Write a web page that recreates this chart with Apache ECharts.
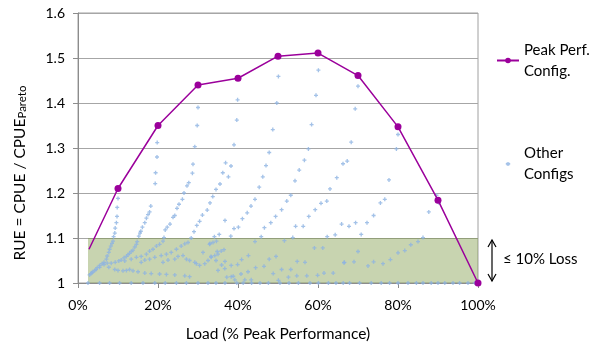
<!DOCTYPE html>
<html>
<head>
<meta charset="utf-8">
<script src="https://cdn.jsdelivr.net/npm/echarts@6/dist/echarts.min.js"></script>
<style>
  html, body { margin: 0; padding: 0; background: #fff; }
  #main { width: 592px; height: 347px; }
</style>
</head>
<body>
<div id="main"></div>
<script>
// peak performance configuration (load %, RUE)
var loadPeak = [2.75, 10, 20, 30, 40, 50, 60, 70, 80, 90, 100];
var ruePeak = [1.075, 1.21, 1.35, 1.44, 1.455, 1.504, 1.511, 1.461, 1.347, 1.184, 1.0];

// other configs sitting on the pareto line (RUE = 1)
var paretoLoads = [2.5, 5.4, 7.9, 10.4, 13.3, 16.25, 19.2, 21.8, 24.6, 27.1, 30, 32.5, 34.5, 36.75, 39.7, 41.3, 43.4, 45.5, 47.6, 50.5, 52.75, 55.1, 58, 60.1, 62.6, 64.5, 66.3, 67.9, 70.4, 73.3, 75.8, 77.9, 80, 82.5, 84.6, 86.25, 88.3, 90, 91.7, 93.75, 95.4, 97.5, 99.2];

// other configs, [load %, RUE], grouped by the peak they climb to
var configs10 = [[2.9,1.018],[3.2,1.021],[3.5,1.023],[3.75,1.025],[4.2,1.028],[4.8,1.034],[5.4,1.039],[6,1.043],[6.5,1.046],[7.1,1.053],[7.3,1.060],[7.7,1.068],[7.9,1.075],[8.2,1.082],[8.5,1.088],[8.75,1.093],[8.9,1.103],[9.2,1.111],[9.3,1.122],[9.6,1.134],[9.75,1.148],[9.8,1.168],[10,1.188]];
var configs20 = [[4.5,1.030],[5.4,1.035],[6.5,1.041],[7.3,1.044],[8.3,1.044],[9.3,1.046],[10.2,1.049],[10.8,1.051],[11.5,1.056],[12.1,1.059],[12.5,1.063],[12.9,1.066],[13.3,1.070],[13.75,1.073],[14.2,1.080],[14.6,1.086],[14.8,1.092],[15.2,1.104],[15.5,1.111],[15.7,1.115],[16.1,1.124],[16.7,1.134],[17.1,1.144],[17.5,1.152],[17.9,1.158],[18.2,1.171],[19.3,1.221],[19.4,1.245],[19.75,1.280],[19.8,1.312]];
var configs30 = [[11.7,1.049],[13.3,1.053],[14.6,1.057],[15.8,1.059],[17.1,1.064],[17.9,1.071],[18.75,1.075],[19.6,1.082],[20.4,1.086],[21.25,1.093],[21.5,1.101],[21.8,1.118],[22.3,1.124],[23,1.131],[23.75,1.146],[24.2,1.150],[24.75,1.166],[25.25,1.175],[26.1,1.186],[26.5,1.200],[27.25,1.216],[27.7,1.223],[28.6,1.244],[28.75,1.264],[29.2,1.303],[29.8,1.350],[30,1.390]];
var configs40 = [[15.8,1.046],[16.7,1.051],[17.9,1.053],[19.2,1.057],[20.8,1.061],[22.1,1.064],[23.3,1.068],[24.6,1.075],[25.8,1.082],[26.7,1.087],[27.5,1.090],[28.3,1.100],[29,1.114],[29.7,1.128],[30.4,1.137],[31.1,1.151],[32.3,1.162],[33,1.178],[33.7,1.192],[34.5,1.208],[35.5,1.220],[36.2,1.245],[36.9,1.267],[37.6,1.236],[38.25,1.260],[39,1.307],[39.7,1.362],[39.9,1.407]];
var configs50 = [[21.25,1.046],[22.5,1.051],[24.2,1.053],[25,1.059],[26.25,1.061],[27.1,1.053],[27.9,1.050],[31.25,1.068],[32.9,1.086],[33.75,1.090],[34.6,1.093],[34.1,1.103],[35.3,1.108],[36.75,1.139],[38.2,1.104],[39,1.121],[40.1,1.124],[41.1,1.143],[42.3,1.156],[43.25,1.171],[44.25,1.186],[45.3,1.213],[46.2,1.236],[47,1.261],[47.8,1.290],[48.7,1.341],[49.7,1.400],[50.1,1.459]];
var configs60 = [[29.2,1.046],[29.6,1.043],[30.4,1.039],[31.7,1.043],[32.5,1.050],[33.3,1.057],[34.2,1.061],[35,1.064],[35.8,1.071],[36.5,1.074],[44.25,1.092],[45.8,1.103],[46.6,1.123],[48.2,1.134],[49.4,1.148],[50.9,1.163],[52.2,1.182],[53.2,1.195],[54.25,1.227],[55.3,1.251],[56.6,1.273],[57.6,1.298],[58.4,1.352],[59.5,1.417],[60.1,1.473]];
var configs70 = [[51.6,1.094],[53.7,1.101],[54.4,1.126],[56.3,1.126],[57.7,1.148],[59.3,1.163],[60.75,1.177],[62.2,1.182],[63,1.209],[64.7,1.234],[66.25,1.265],[67.3,1.271],[68.3,1.313],[69.3,1.387],[70,1.4375]];
var configs80 = [[59.1,1.078],[61.2,1.078],[62.3,1.103],[64.3,1.107],[65.9,1.131],[67.75,1.126],[69.4,1.134],[70.8,1.108],[72.25,1.134],[73.9,1.150],[75.6,1.178],[76.7,1.186],[77.75,1.229],[79.6,1.298],[80,1.330]];
var configs90 = [[66.5,1.045],[69,1.047],[70,1.070],[72.5,1.038],[73.9,1.047],[76.25,1.043],[78.1,1.052],[80,1.067],[81.7,1.072],[83.2,1.085],[85,1.092],[86.25,1.101],[87.7,1.158],[90.25,1.178],[89.6,1.195]];
var configsLow = [[7.7,1.035],[9.2,1.030],[10,1.028],[11.25,1.027],[12.1,1.028],[12.9,1.030],[13.75,1.027],[15,1.025],[16.7,1.022],[18.3,1.021],[20.4,1.020],[22.1,1.019],[24.2,1.018],[26.7,1.016],[27.9,1.014],[33,1.088],[33.25,1.059],[34.8,1.070],[34.5,1.050],[35,1.028],[35.9,1.040],[36.7,1.032],[36.75,1.048],[37.2,1.013],[38.3,1.039],[38.3,1.014],[38.8,1.015],[39.2,1.007],[39.9,1.041],[40.75,1.020],[40.9,1.052],[41.7,1.007],[42.6,1.061],[42.5,1.025],[43.3,1.007],[44.4,1.034],[46.5,1.037],[47.8,1.053],[48.8,1.021],[49.5,1.059],[50.1,1.006],[50.9,1.030],[52.6,1.013],[53.2,1.030],[54.7,1.016],[54.8,1.048],[56.75,1.046],[57.2,1.016],[59.9,1.017],[61.5,1.022],[63.8,1.022],[66.6,1.046]];

var xTicks = [0, 20, 40, 60, 80, 100];
var yTicks = [1, 1.1, 1.2, 1.3, 1.4, 1.5, 1.6];
var lossBand = [1.0, 1.1];   // <= 10% loss band
var lossBandStart = 2.5;

var RueChart = {
    chart: null,

    init: function(){
        RueChart.chart = echarts.init(document.getElementById('main'), null, {renderer: 'canvas'});
        RueChart.chart.setOption(RueChart.chartOptionfun(), true);
        RueChart.drawLossArrow();
    },

    otherConfigs: function(){
        var pts = [];
        for (var i = 0; i < paretoLoads.length; i++) {
            pts.push([paretoLoads[i], 1.0]);
        }
        return pts.concat(configs10, configs20, configs30, configs40, configs50,
                          configs60, configs70, configs80, configs90, configsLow);
    },

    chartOptionfun: function(){
        var peakData = [];
        for (var i = 0; i < loadPeak.length; i++) {
            var item = {value: [loadPeak[i], ruePeak[i]]};
            if (i == 0) item.symbol = 'none';  // line starts without a marker
            peakData.push(item);
        }
        var font = 'Lato';
        var txt = '#000';

        var option = {
            animation: false,
            backgroundColor: '#fff',
            textStyle: {fontFamily: font},
            grid: {
                left: 78, top: 13, width: 400, height: 276,
                show: true, borderColor: '#a0a0a0', borderWidth: 1
            },
            legend: {
                orient: 'vertical',
                left: 496, top: 29, padding: 0,
                itemWidth: 22, itemHeight: 7, itemGap: 40,
                data: [
                    {name: 'Peak Perf. Config.'},
                    {name: 'Other Configs', icon: 'path://M0,0M22,8M9.5,2.5h3v1h1v2h-1v1h-3v-1h-1v-2h1z'}
                ],
                formatter: function(name){
                    return name == 'Peak Perf. Config.' ? 'Peak Perf.\nConfig.' : 'Other\nConfigs';
                },
                textStyle: {fontFamily: font, fontSize: 15, color: txt, lineHeight: 21, padding: [21, 0, 0, 0]}
            },
            xAxis: {
                type: 'value',
                min: xTicks[0], max: xTicks[xTicks.length - 1], interval: 20,
                name: 'Load (% Peak Performance)',
                nameLocation: 'middle', nameGap: 43,
                nameTextStyle: {fontFamily: font, fontSize: 15.5, color: txt},
                axisLine: {show: true, lineStyle: {color: '#8c8c8c'}},
                axisTick: {show: true, length: 5, lineStyle: {color: '#8c8c8c'}},
                axisLabel: {fontFamily: font, fontSize: 14, color: txt, margin: 15, formatter: '{value}%'},
                splitLine: {show: false}
            },
            yAxis: {
                type: 'value',
                min: yTicks[0], max: yTicks[yTicks.length - 1], interval: 0.1,
                name: '{a|RUE = CPUE / CPUE}{b|Pareto}',
                nameLocation: 'middle', nameGap: 50, nameRotate: 90,
                nameTextStyle: {
                    padding: [0, 50, 0, 0],
                    rich: {
                        a: {fontFamily: font, fontSize: 15.5, color: txt, lineHeight: 19, verticalAlign: 'bottom'},
                        b: {fontFamily: font, fontSize: 11.5, color: txt, lineHeight: 12, verticalAlign: 'bottom'}
                    }
                },
                axisLine: {show: true, lineStyle: {color: '#8c8c8c'}},
                axisTick: {show: true, length: 5, lineStyle: {color: '#8c8c8c'}},
                axisLabel: {fontFamily: font, fontSize: 14, color: txt, margin: 13},
                splitLine: {show: true, lineStyle: {color: '#a6a6a6', width: 1}}
            },
            series: [
                {
                    name: 'Other Configs',
                    type: 'scatter',
                    z: 2,
                    symbol: 'path://M1,0h1v1h1v1h-1v1h-1v-1h-1v-1h1z',
                    symbolSize: 4,
                    itemStyle: {color: '#8db3e2'},
                    data: RueChart.otherConfigs()
                },
                {
                    // translucent green band laid over the points
                    name: 'band',
                    type: 'line',
                    z: 3,
                    data: [],
                    markArea: {
                        silent: true,
                        itemStyle: {color: 'rgba(118,148,58,0.4)'},
                        data: [[{coord: [lossBandStart, lossBand[0]]}, {coord: [100, lossBand[1]]}]]
                    }
                },
                {
                    name: 'Peak Perf. Config.',
                    type: 'line',
                    z: 4,
                    symbol: 'circle',
                    symbolSize: 7,
                    lineStyle: {color: '#9b009b', width: 1.5},
                    itemStyle: {color: '#9b009b'},
                    data: peakData
                }
            ]
        };
        return option;
    },

    // double headed arrow + label to the right of the band
    drawLossArrow: function(){
        var c = RueChart.chart;
        var yTop = c.convertToPixel({yAxisIndex: 0}, lossBand[1]) + 2;
        var yBot = c.convertToPixel({yAxisIndex: 0}, lossBand[0]) - 2;
        var x = c.convertToPixel({xAxisIndex: 0}, 100) + 14;
        var st = {stroke: '#000', lineWidth: 1.2, fill: null};
        c.setOption({
            graphic: [
                {type: 'polyline', shape: {points: [[x, yTop], [x, yBot]]}, style: st},
                {type: 'polyline', shape: {points: [[x - 4, yTop + 7], [x, yTop], [x + 4, yTop + 7]]}, style: st},
                {type: 'polyline', shape: {points: [[x - 4, yBot - 7], [x, yBot], [x + 4, yBot - 7]]}, style: st},
                {type: 'text', left: x + 11, top: (yTop + yBot) / 2 - 9,
                 style: {text: '\u2264 10% Loss', fontFamily: 'Lato', fontSize: 15, fill: '#000'}}
            ]
        });
    }
};

RueChart.init();
</script>
</body>
</html>
